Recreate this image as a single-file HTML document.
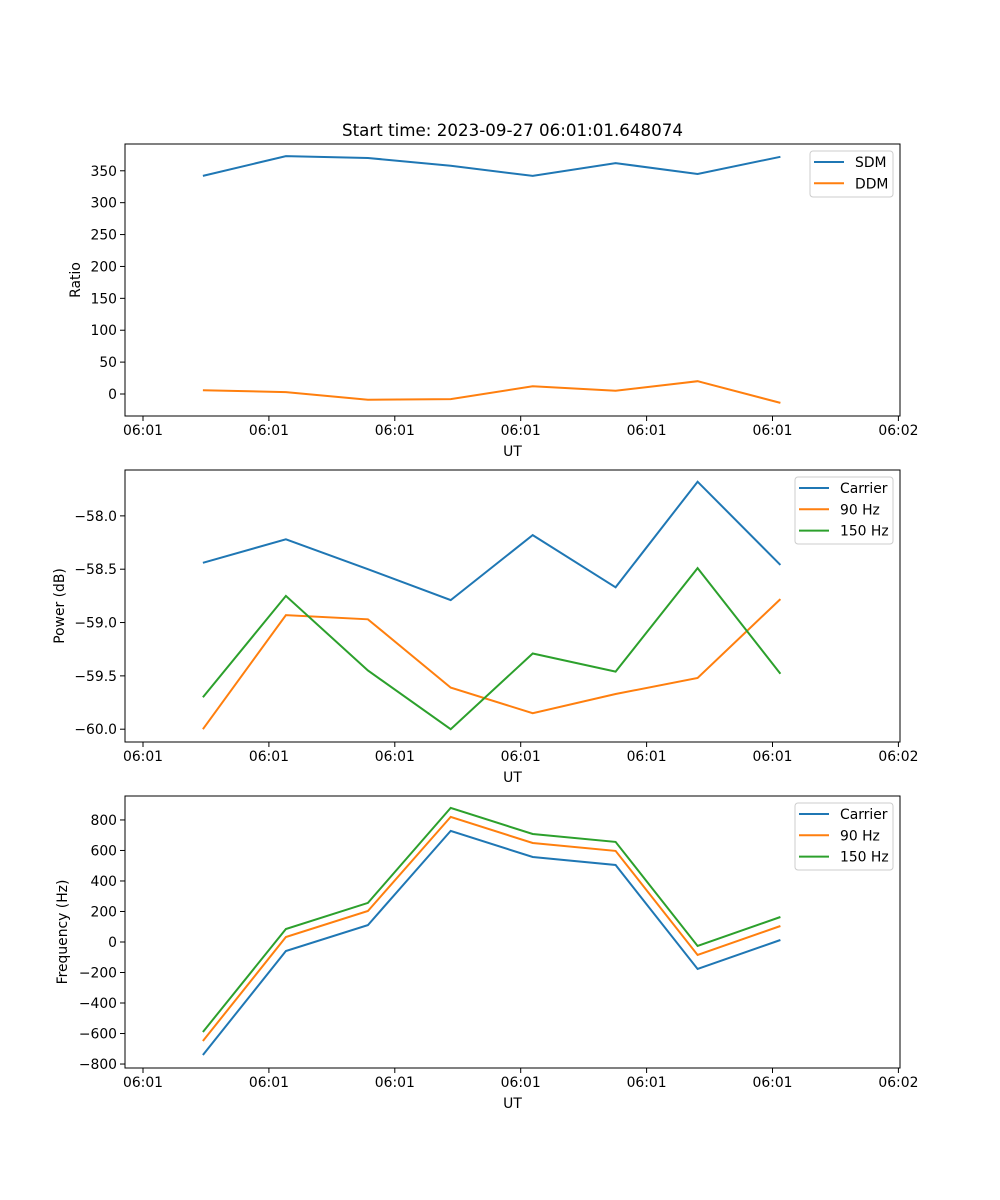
<!DOCTYPE html>
<html><head><meta charset="utf-8"><style>
body{margin:0;background:#fff}
svg{display:block;font-family:"DejaVu Sans","Liberation Sans",sans-serif}
</style></head><body>
<svg id="fig" width="1000" height="1200" viewBox="0 0 1000 1200">
<text x="512.5" y="136" font-size="16.7" text-anchor="middle">Start time: 2023-09-27 06:01:01.648074</text>
</svg>
<script>
const times=[0.476,1.135,1.786,2.444,3.095,3.754,4.405,5.063];
const xTicks=[0,1,2,3,4,5,6];
const xTickLabels=["06:01","06:01","06:01","06:01","06:01","06:01","06:02"];
const sdm=[342,373,370,358,342,362,345,372];
const ddm=[6,3,-9,-8,12,5,20,-14];
const pCarrier=[-58.44,-58.22,-58.50,-58.79,-58.18,-58.67,-57.68,-58.46];
const p90=[-60.0,-58.93,-58.97,-59.61,-59.85,-59.67,-59.52,-58.78];
const p150=[-59.70,-58.75,-59.45,-60.0,-59.29,-59.46,-58.49,-59.48];
const fCarrier=[-741,-59,111,728,557,505,-177,13];
const f90=[-649,33,203,820,649,597,-85,105];
const f150=[-590,85,256,879,708,656,-26,164];
const yTicks1=[0,50,100,150,200,250,300,350];
const yTicks2=[-60.0,-59.5,-59.0,-58.5,-58.0];
const yTicks3=[-800,-600,-400,-200,0,200,400,600,800];

const NS="http://www.w3.org/2000/svg";
const svg=document.getElementById('fig');
function el(tag,attrs,parent){const e=document.createElementNS(NS,tag);for(const k in attrs)e.setAttribute(k,attrs[k]);(parent||svg).appendChild(e);return e;}
const L=125,R=900;
const xs=t=>143+t*125.9;
const C=['#1f77b4','#ff7f0e','#2ca02c'];
function fmt(v,dec){return (v<0?'\u2212':'')+Math.abs(v).toFixed(dec);}
function panel(id,top,bot,ymin,ymax,yt,dec,ylabel,series,names,legW){
  const g=el('g',{});
  
  
  const ys=v=>bot-(v-ymin)/(ymax-ymin)*(bot-top);
  xTicks.forEach((t,i)=>{
    const x=xs(t);
    const tk=el('line',{x1:x,x2:x,y1:bot,y2:bot+5,stroke:'#000','stroke-width':1},g);
    
    
    const tx=el('text',{x:x,y:bot+19,'font-size':13.9,'text-anchor':'middle'},g);
    
    
    tx.textContent=xTickLabels[i];
  });
  yt.forEach(v=>{
    const y=ys(v);
    const tk=el('line',{x1:L-5,x2:L,y1:y,y2:y,stroke:'#000','stroke-width':1},g);
    
    
    const tx=el('text',{x:L-8,y:y+5,'font-size':13.9,'text-anchor':'end'},g);
    
    
    tx.textContent=fmt(v,dec);
  });
  const xl=el('text',{x:512.5,y:bot+40,'font-size':13.9,'text-anchor':'middle'},g);
  
  
  xl.textContent='UT';
  const cy=(top+bot)/2;
  const yl=el('text',{x:0,y:0,'font-size':13.9,'text-anchor':'middle',transform:`translate(${ylabel[1]},${cy}) rotate(-90)`},g);
  
  
  yl.textContent=ylabel[0];
  series.forEach((s,i)=>{
    const pts=s.map((v,j)=>xs(times[j]).toFixed(1)+','+ys(v).toFixed(1)).join(' ');
    const p=el('polyline',{points:pts,fill:'none',stroke:C[i],'stroke-width':2},g);
    
    
  });
  const fr=el('rect',{x:L,y:top,width:R-L,height:bot-top,fill:'none',stroke:'#000','stroke-width':1},g);
  
  
  const lx=893-legW, lh=names.length*21+4;
  const lg=el('g',{},g);
  
  
  el('rect',{x:lx,y:top+7,width:legW,height:lh,rx:3,fill:'#fff','fill-opacity':0.8,stroke:'#ccc'},lg);
  names.forEach((n,i)=>{
    const y=top+18+i*21.3;
    const e=el('g',{},lg);
    
    
    el('line',{x1:lx+4,x2:lx+34,y1:y,y2:y,stroke:C[i],'stroke-width':2},e);
    const t=el('text',{x:lx+45,y:y+5,'font-size':13.9},e);
    t.textContent=n;
  });
}
panel('ratio-panel',144,416,-34.5,392,yTicks1,0,['Ratio',80],[sdm,ddm],['SDM','DDM'],83);
panel('power-panel',470,742,-60.12,-57.57,yTicks2,1,['Power (dB)',64],[pCarrier,p90,p150],['Carrier','90 Hz','150 Hz'],98);
panel('frequency-panel',796,1068,-826,957,yTicks3,0,['Frequency (Hz)',67],[fCarrier,f90,f150],['Carrier','90 Hz','150 Hz'],98);
</script>
</body></html>
